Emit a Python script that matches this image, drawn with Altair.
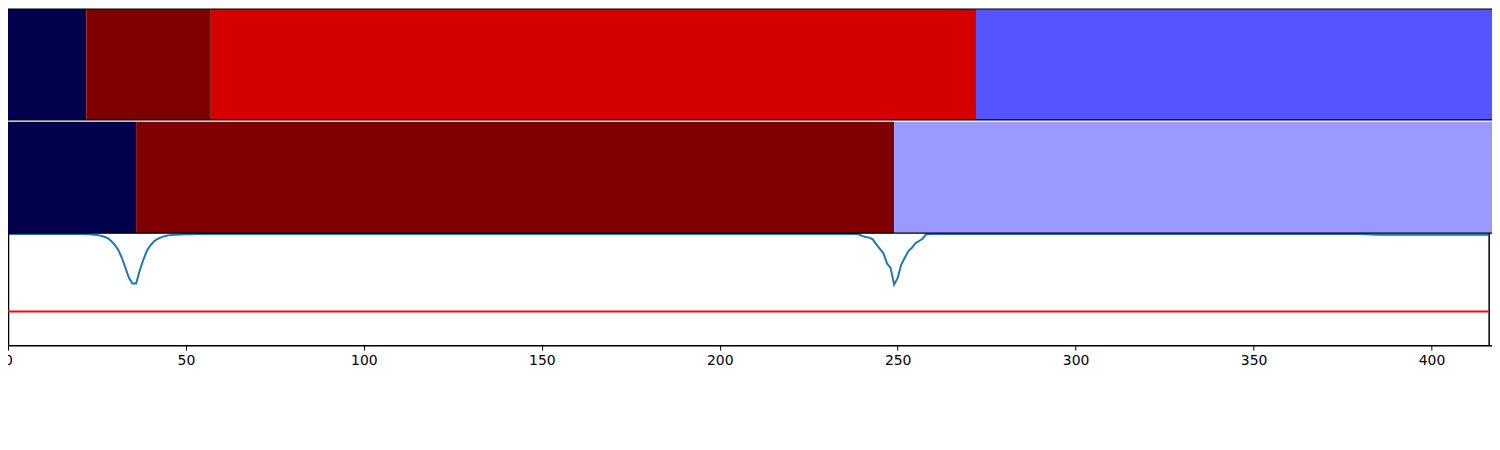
import altair as alt
import pandas as pd

# ---- data ----
row1_start = [0, 22, 57, 272]
row1_end = [22, 57, 272, 417]
row1_color = ["#00004c", "#800000", "#d40000", "#5555ff"]

row2_start = [0, 36, 249]
row2_end = [36, 249, 417]
row2_color = ["#00004c", "#7f0000", "#9999ff"]

line_x = [0, 10, 20, 23, 25, 26, 27, 28, 29, 30, 31, 32, 33, 34, 35, 36, 37, 38, 39, 40,
          41, 42, 43, 44, 45, 47, 50, 55, 100, 150, 200, 238, 239, 240, 241, 242, 243, 244,
          245, 246, 247, 248, 249, 250, 251, 252, 253, 254, 255, 256, 257, 258, 260, 300,
          350, 380, 385, 416]
line_y = [0.993, 0.993, 0.992, 0.99, 0.984, 0.978, 0.968, 0.955, 0.93, 0.895, 0.85, 0.78,
          0.69, 0.60, 0.55, 0.55, 0.665, 0.76, 0.84, 0.89, 0.925, 0.948, 0.962, 0.973, 0.98,
          0.986, 0.99, 0.993, 0.993, 0.993, 0.993, 0.993, 0.99, 0.975, 0.965, 0.96, 0.945,
          0.90, 0.86, 0.82, 0.73, 0.69, 0.54, 0.60, 0.72, 0.78, 0.84, 0.87, 0.91, 0.93, 0.95,
          0.99, 0.993, 0.993, 0.993, 0.992, 0.986, 0.986]

threshold = 0.30
x_ticks = [0, 50, 100, 150, 200, 250, 300, 350, 400]

# ---- tables ----
bars = pd.DataFrame({
    "x": row1_start + row2_start,
    "x2": row1_end + row2_end,
    "y": [2.01] * len(row1_start) + [1.0] * len(row2_start),
    "y2": [3.0] * len(row1_start) + [1.995] * len(row2_start),
    "c": row1_color + row2_color,
})
line_df = pd.DataFrame({"x": line_x, "v": line_y})
thr_df = pd.DataFrame({"x": [0], "x2": [416], "v": [threshold]})
hsep_df = pd.DataFrame({"x": [0, 0, 0], "x2": [417, 417, 417], "v": [3.0, 2.01, 1.0]})
vsep_df = pd.DataFrame({"x": [0.15, 416.2], "v": [0.0, 0.0], "v2": [1.0, 1.0]})

xscale = alt.Scale(domain=[0, 417], nice=False, zero=False)
yscale = alt.Scale(domain=[0, 3], nice=False, zero=False)

xaxis = alt.Axis(values=x_ticks, title=None, grid=False, format="d",
                 labelFont="DejaVu Sans", labelFontSize=14, labelColor="black",
                 labelFlush=False, labelOverlap=False,
                 tickColor="black", domainColor="black", tickSize=5, tickWidth=1,
                 domainWidth=1.5, labelPadding=3)

X = alt.X("x:Q", scale=xscale, axis=xaxis)

line = alt.Chart(line_df).mark_line(color="#1f77b4", strokeWidth=2).encode(
    x=X,
    y=alt.Y("v:Q", scale=yscale, axis=None),
)

rects = alt.Chart(bars).mark_rect().encode(
    x=X,
    x2="x2:Q",
    y=alt.Y("y:Q", scale=yscale, axis=None),
    y2="y2:Q",
    color=alt.Color("c:N", scale=None),
)

hsep = alt.Chart(hsep_df).mark_rule(color="black", strokeWidth=1.2).encode(
    x=X, x2="x2:Q",
    y=alt.Y("v:Q", scale=yscale, axis=None),
)
vsep = alt.Chart(vsep_df).mark_rule(color="black", strokeWidth=1.5).encode(
    x=X,
    y=alt.Y("v:Q", scale=yscale, axis=None), y2="v2:Q",
)

thr = alt.Chart(thr_df).mark_rule(color="red", strokeWidth=2).encode(
    x=X, x2="x2:Q",
    y=alt.Y("v:Q", scale=yscale, axis=None),
)

chart = alt.layer(line, rects, hsep, vsep, thr).properties(
    width=1492, height=338,
    autosize=alt.AutoSizeParams(type="none"),
    padding={"left": 0, "top": 0, "right": 0, "bottom": 40},
).configure_view(stroke=None).configure(background="white")

chart.save("out.html", embed_options={"renderer": "svg", "actions": False})
